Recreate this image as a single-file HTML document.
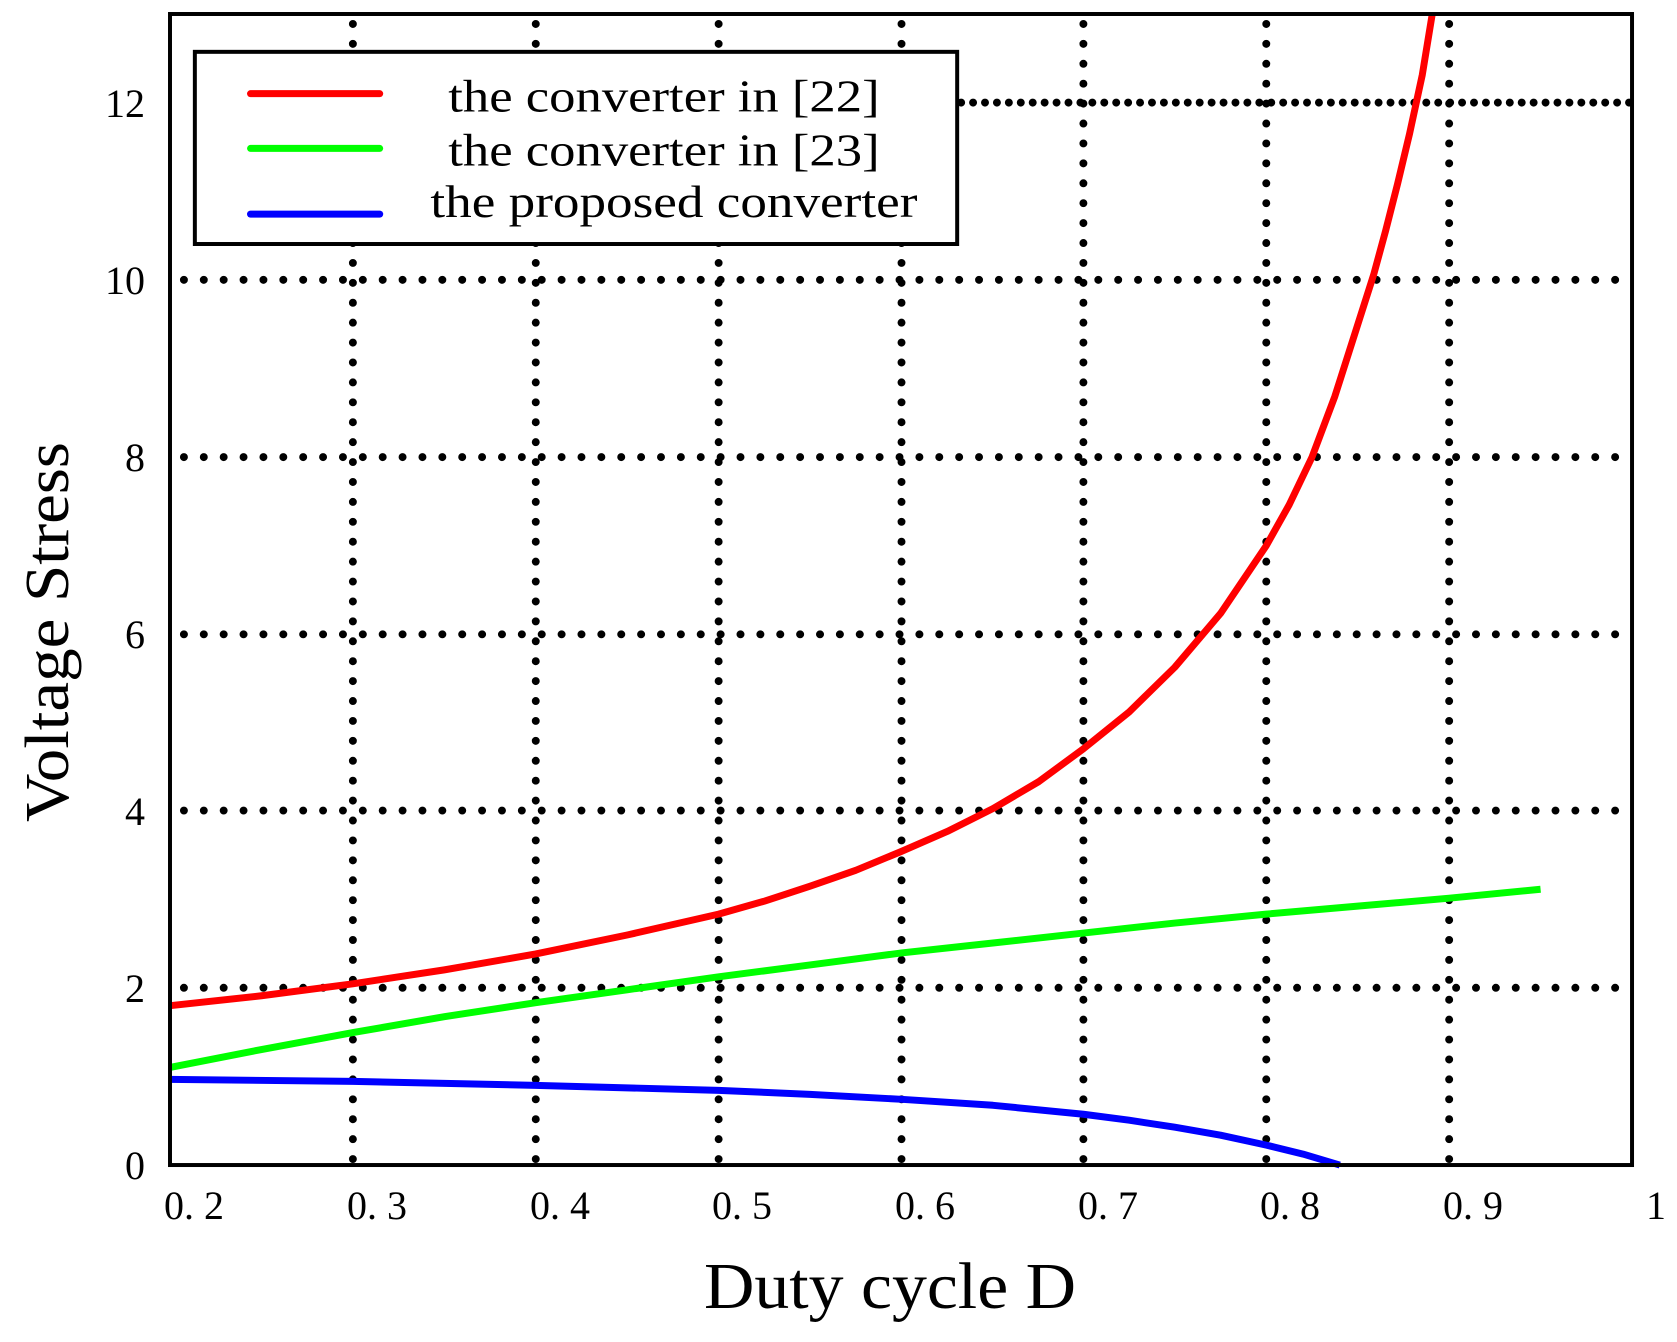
<!DOCTYPE html>
<html><head><meta charset="utf-8"><style>html,body{margin:0;padding:0;background:#fff}svg{display:block}</style></head>
<body>
<svg width="1677" height="1342" viewBox="0 0 1677 1342" xmlns="http://www.w3.org/2000/svg" font-family="Liberation Serif, serif">
<rect width="1677" height="1342" fill="#fff"/>
<g transform="matrix(0.9939,0,0,0.9957,1.04,0.06)">
<g stroke="#000" stroke-width="8" stroke-linecap="round" stroke-dasharray="0 20" fill="none">
<line x1="184" y1="992" x2="1641" y2="992"/>
<line x1="184" y1="814" x2="1641" y2="814"/>
<line x1="184" y1="637" x2="1641" y2="637"/>
<line x1="184" y1="459" x2="1641" y2="459"/>
<line x1="184" y1="281" x2="1641" y2="281"/>
<line x1="966" y1="103" x2="1641" y2="103" stroke-dasharray="0 12"/>
<line x1="354" y1="24" x2="354" y2="1166"/>
<line x1="538" y1="24" x2="538" y2="1166"/>
<line x1="722" y1="24" x2="722" y2="1166"/>
<line x1="906" y1="24" x2="906" y2="1166"/>
<line x1="1089" y1="24" x2="1089" y2="1166"/>
<line x1="1273" y1="24" x2="1273" y2="1166"/>
<line x1="1457" y1="24" x2="1457" y2="1166"/>
</g>
<g fill="none" stroke-width="7" stroke-linejoin="round">
<polyline stroke="#00ff00" points="170,1072 262,1054 354,1037 446,1021 538,1007 630,994 722,981 814,969 906,957 998,947 1089,937 1181,927 1273,918 1365,910 1457,902 1549,893"/>
<polyline stroke="#0000ff" points="170,1084 354,1086 538,1090 722,1095 814,1099 906,1104 998,1110 1089,1119 1135,1125 1181,1132 1227,1140 1273,1150 1310,1159 1347,1170"/>
<polyline stroke="#ff0000" points="170,1010 262,1000 354,988 446,974 538,958 630,939 722,918 768,905 814,890 860,874 906,855 952,835 998,812 1044,785 1089,752 1135,715 1181,670 1227,616 1273,548 1296,507 1319,459 1342,398 1365,326 1381,276 1393,232 1405,185 1417,135 1430,75 1440,14"/>
</g>
<rect x="195" y="52" width="767" height="193" fill="#fff" stroke="#000" stroke-width="4"/>
<g stroke-width="7" stroke-linecap="round">
<line x1="251" y1="94" x2="381" y2="94" stroke="#ff0000"/>
<line x1="251" y1="149" x2="381" y2="149" stroke="#00ff00"/>
<line x1="251" y1="215" x2="381" y2="215" stroke="#0000ff"/>
</g>
<g font-size="46" text-anchor="middle" fill="#000">
<text x="667" y="112" textLength="434" lengthAdjust="spacingAndGlyphs">the converter in [22]</text>
<text x="667" y="166" textLength="434" lengthAdjust="spacingAndGlyphs">the converter in [23]</text>
<text x="677" y="218" textLength="490" lengthAdjust="spacingAndGlyphs">the proposed converter</text>
</g>
<rect x="170" y="14" width="1471" height="1156" fill="none" stroke="#000" stroke-width="4"/>
</g>
<g font-size="40" fill="#000" text-anchor="end">
<text x="145" y="1179">0</text>
<text x="145" y="1002">2</text>
<text x="145" y="825">4</text>
<text x="145" y="648">6</text>
<text x="145" y="471">8</text>
<text x="145" y="294">10</text>
<text x="145" y="117">12</text>
</g>
<g font-size="40" fill="#000" text-anchor="middle">
<text x="194" y="1219">0. 2</text>
<text x="377" y="1219">0. 3</text>
<text x="560" y="1219">0. 4</text>
<text x="742" y="1219">0. 5</text>
<text x="925" y="1219">0. 6</text>
<text x="1108" y="1219">0. 7</text>
<text x="1290" y="1219">0. 8</text>
<text x="1473" y="1219">0. 9</text>
<text x="1656" y="1219">1</text>
</g>
<text x="890" y="1308" font-size="66" text-anchor="middle" fill="#000" textLength="372" lengthAdjust="spacingAndGlyphs">Duty cycle  D</text>
<text transform="translate(68,632) rotate(-90)" font-size="62" text-anchor="middle" fill="#000" textLength="380" lengthAdjust="spacingAndGlyphs">Voltage Stress</text>
</svg>
</body></html>
